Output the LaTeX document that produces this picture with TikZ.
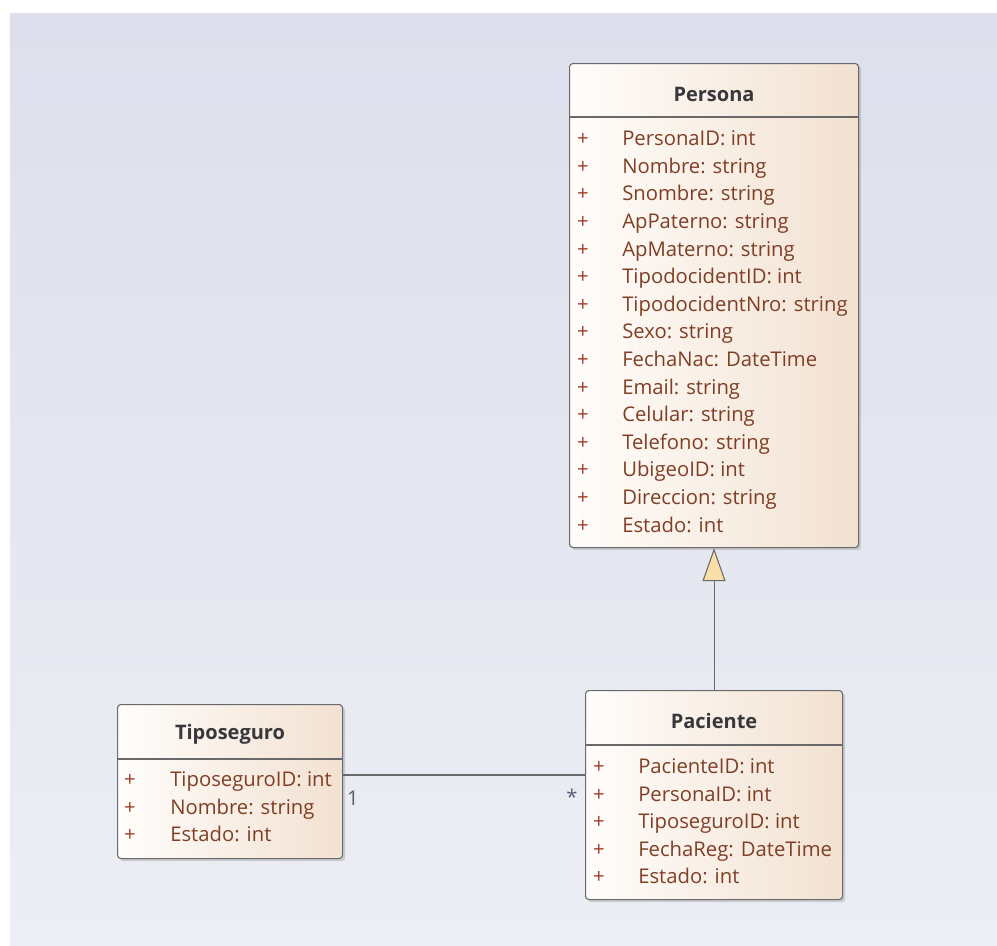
\documentclass[tikz,border=0pt]{standalone}
\usepackage{fontspec}
\setmainfont{Open Sans}
\usetikzlibrary{arrows.meta,calc,shadows}
\definecolor{bg_top}{RGB}{221,223,236}
\definecolor{bg_bot}{RGB}{236,238,244}
\definecolor{box_left}{RGB}{255,253,251}
\definecolor{box_right}{RGB}{242,225,209}
\definecolor{box_edge}{RGB}{105,105,105}
\definecolor{attr_brown}{RGB}{128,62,36}
\definecolor{plus_red}{RGB}{160,60,40}
\definecolor{title_gray}{RGB}{55,55,60}
\definecolor{mult_gray}{RGB}{85,95,115}
\definecolor{tip_fill}{RGB}{250,222,170}

\begin{document}
\begin{tikzpicture}[x=0.75pt,y=-0.75pt]
    \tikzstyle{cls}=[draw=box_edge, line width=0.8pt, rounded corners=2.5pt, left color=box_left, right color=box_right, drop shadow={shadow xshift=2pt,shadow yshift=-2pt,opacity=0.3}, anchor=north west, inner sep=0pt]
    \tikzstyle{sep}=[draw=box_edge, line width=0.8pt]
    \tikzstyle{title}=[font=\fontsize{15}{18}\selectfont\bfseries, text=title_gray, inner sep=0pt]
    \tikzstyle{attr}=[font=\fontsize{15.2}{18}\selectfont, text=attr_brown, anchor=west, inner sep=0pt, text height=10.5pt, text depth=3pt]
    \tikzstyle{plus}=[font=\fontsize{15.2}{18}\selectfont, text=plus_red, inner sep=0pt, text height=10.5pt, text depth=3pt]
    \tikzstyle{conn}=[draw=box_edge, line width=0.8pt]
    \tikzstyle{mult}=[font=\fontsize{15.2}{18}\selectfont, text=mult_gray, inner sep=0pt]

    \useasboundingbox (0,0) rectangle (997,946);
    \shade[top color=bg_top, bottom color=bg_bot] (10,13) rectangle (997,946);

    % Persona
    \node[cls, minimum width=289*0.75pt, minimum height=484*0.75pt] (persona) at (569,63) {};
    \draw[sep] ($(persona.north west)+(0,54)$) -- ($(persona.north east)+(0,54)$);
    \node[title] (persona-t) at ($(persona.north)+(0,31)$) {Persona};
    \foreach \a [count=\i] in {PersonaID: int, Nombre: string, Snombre: string, ApPaterno: string, ApMaterno: string, TipodocidentID: int, TipodocidentNro: string, Sexo: string, FechaNac: DateTime, Email: string, Celular: string, Telefono: string, UbigeoID: int, Direccion: string, Estado: int}
    {
      \node[plus] (persona-p\i) at ($(persona.north west)+(14,50+27.6*\i)$) {+};
      \node[attr] (persona-a\i) at ($(persona.north west)+(53,50+27.6*\i)$) {\a};
    }

    % Paciente
    \node[cls, minimum width=257*0.75pt, minimum height=209*0.75pt] (paciente) at (585,690) {};
    \draw[sep] ($(paciente.north west)+(0,55)$) -- ($(paciente.north east)+(0,55)$);
    \node[title] (paciente-t) at ($(paciente.north)+(0,30.5)$) {Paciente};
    \foreach \a [count=\i] in {PacienteID: int, PersonaID: int, TiposeguroID: int, FechaReg: DateTime, Estado: int}
    {
      \node[plus] (paciente-p\i) at ($(paciente.north west)+(14,51+27.5*\i)$) {+};
      \node[attr] (paciente-a\i) at ($(paciente.north west)+(53,51+27.5*\i)$) {\a};
    }

    % Tiposeguro
    \node[cls, minimum width=225*0.75pt, minimum height=154*0.75pt] (tipo) at (117,704) {};
    \draw[sep] ($(tipo.north west)+(0,55)$) -- ($(tipo.north east)+(0,55)$);
    \node[title] (tipo-t) at ($(tipo.north)+(0,30.5)$) {Tiposeguro};
    \foreach \a [count=\i] in {TiposeguroID: int, Nombre: string, Estado: int}
    {
      \node[plus] (tipo-p\i) at ($(tipo.north west)+(13,50+27.5*\i)$) {+};
      \node[attr] (tipo-a\i) at ($(tipo.north west)+(53,50+27.5*\i)$) {\a};
    }

    % associations
    \path ($(tipo.north east)+(0,71)$) coordinate (assoc);
    \draw[conn] (assoc) -- (assoc -| paciente.west);
    \node[mult] (m-one) at (353,798) {1};
    \node[mult] (m-many) at (572,797) {*};
    \draw[conn, -{Triangle[length=24.75pt,width=17.25pt,fill=tip_fill]}] (paciente.north) -- (persona.south);
\end{tikzpicture}
\end{document}
